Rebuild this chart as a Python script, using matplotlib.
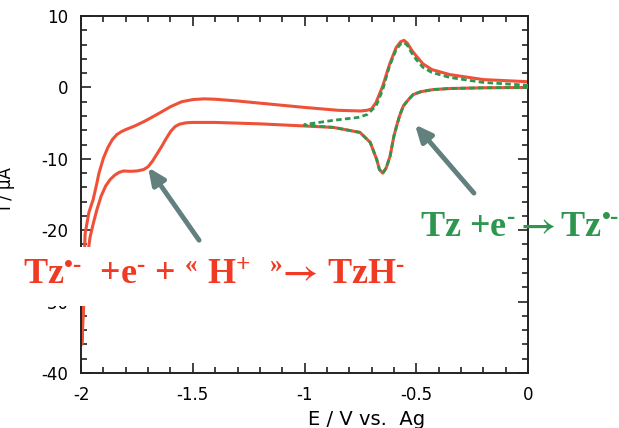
import numpy as np
import matplotlib
matplotlib.use("Agg")
import matplotlib.pyplot as plt

plt.rcParams["font.family"] = ["DejaVu Sans"]
plt.rcParams["mathtext.fontset"] = "custom"
plt.rcParams["mathtext.rm"] = "Liberation Serif:bold"
plt.rcParams["mathtext.it"] = "Liberation Serif:bold"
plt.rcParams["mathtext.bf"] = "Liberation Serif:bold"
plt.rcParams["mathtext.sf"] = "STIXGeneral:bold"
plt.rcParams["mathtext.fallback"] = "stix"

# full CV (red): cathodic sweep 0 -> -2 V, then return -2 -> 0 V
red_fwd_E = [0.0, -0.2, -0.35, -0.425, -0.48, -0.514, -0.535, -0.558, -0.575, -0.588,
             -0.60, -0.617, -0.635, -0.65, -0.665, -0.677, -0.706, -0.752, -0.87, -1.0,
             -1.2, -1.40, -1.47, -1.50, -1.53, -1.56, -1.58, -1.60, -1.62, -1.64,
             -1.66, -1.68, -1.70, -1.72, -1.75, -1.78, -1.81, -1.83, -1.85, -1.87,
             -1.89, -1.91, -1.93, -1.945, -1.96, -1.975, -1.985, -1.992, -1.997]
red_fwd_I = [0.0, -0.05, -0.15, -0.3, -0.6, -1.0, -1.7, -2.6, -4.0, -5.4,
             -6.8, -9.6, -11.3, -12.0, -11.5, -10.1, -7.7, -6.3, -5.6, -5.4,
             -5.1, -4.9, -4.9, -4.9, -4.95, -5.15, -5.5, -6.2, -7.2, -8.3,
             -9.3, -10.3, -11.1, -11.5, -11.7, -11.75, -11.7, -11.9, -12.3, -12.9,
             -13.8, -15.2, -17.2, -19.0, -21.0, -24.5, -28.5, -33.0, -36.0]
red_rev_E = [-1.997, -1.99, -1.982, -1.965, -1.946, -1.93, -1.92, -1.90, -1.88, -1.86,
             -1.84, -1.82, -1.80, -1.76, -1.72, -1.69, -1.65, -1.60, -1.55, -1.50,
             -1.45, -1.40, -1.3, -1.1, -1.0, -0.85, -0.75, -0.72, -0.70, -0.68,
             -0.65, -0.62, -0.59, -0.57, -0.555, -0.54, -0.52, -0.50, -0.47, -0.43,
             -0.35, -0.2, 0.0]
red_rev_I = [-36.0, -28.0, -20.5, -17.5, -15.7, -13.5, -12.0, -9.9, -8.4, -7.3,
             -6.6, -6.2, -5.9, -5.4, -4.8, -4.3, -3.6, -2.7, -2.0, -1.7,
             -1.6, -1.65, -1.9, -2.5, -2.8, -3.2, -3.3, -3.2, -3.0, -2.1,
             0.2, 3.2, 5.6, 6.4, 6.6, 6.2, 5.2, 4.4, 3.3, 2.5,
             1.8, 1.1, 0.8]

# CV restricted to 0 -> -1 V (green dashed)
green_fwd_E = [0.0, -0.2, -0.35, -0.425, -0.48, -0.514, -0.535, -0.558, -0.575, -0.588,
               -0.60, -0.617, -0.635, -0.65, -0.665, -0.677, -0.706, -0.752, -0.87, -1.0]
green_fwd_I = [0.0, -0.05, -0.15, -0.3, -0.6, -1.0, -1.7, -2.6, -4.0, -5.4,
               -6.8, -9.6, -11.3, -12.0, -11.5, -10.1, -7.7, -6.3, -5.6, -5.3]
green_rev_E = [-1.0, -0.87, -0.76, -0.72, -0.68, -0.65, -0.62, -0.59, -0.57, -0.555,
               -0.54, -0.52, -0.50, -0.47, -0.43, -0.35, -0.2, 0.0]
green_rev_I = [-5.2, -4.6, -4.2, -3.8, -2.6, -0.3, 3.0, 5.3, 6.1, 6.3,
               5.9, 4.8, 3.9, 2.8, 2.1, 1.4, 0.7, 0.3]

red_label = r"Tz$^{•‐}$  +e$^{‐}$ + $^{«}$ H$^{+}$  $^{»}\mathsf{→}$ TzH$^{‐}$"
green_label = r"Tz +e$^{‐}\,\mathsf{→}\,$Tz$^{•‐}$"

red = "#ef5138"
green = "#2f9650"
arrow_col = "#62807e"

fig = plt.figure(figsize=(6.19, 4.28), dpi=100)
ax = fig.add_axes([0.131, 0.1285, 0.722, 0.834])

ax.plot(red_fwd_E + red_rev_E, red_fwd_I + red_rev_I, color=red, lw=2.2, zorder=2)
ax.plot(green_fwd_E + green_rev_E, green_fwd_I + green_rev_I, color=green, lw=2.0,
        linestyle=(0, (2, 1.2)), zorder=3)

ax.set_xlim(-2, 0)
ax.set_ylim(-40, 10)
ax.set_xticks([-2, -1.5, -1, -0.5, 0])
ax.set_xticklabels(["-2", "-1.5", "-1", "-0.5", "0"])
ax.set_yticks([-40, -30, -20, -10, 0, 10])
ax.set_yticklabels(["-40", "-30", "-20", "-10", "0", "10"])
ax.set_xticks(np.arange(-2, 0.001, 0.1), minor=True)
ax.set_yticks(np.arange(-40, 10.001, 2), minor=True)
ax.tick_params(which="both", direction="in", top=True, right=True, width=1.2,
               labelsize=12, color="#222222")
ax.tick_params(which="major", length=7, pad=9)
ax.tick_params(which="minor", length=4)
for s in ax.spines.values():
    s.set_linewidth(1.4)
    s.set_color("#222222")

ax.set_xlabel("E / V vs.  Ag", fontsize=14)
ax.xaxis.set_label_coords(0.638, -0.103)
ax.set_ylabel("I / µA", fontsize=12)
ax.yaxis.set_label_coords(-0.147, 0.518)

arrow = dict(arrowstyle="-|>,head_length=1.0,head_width=0.45", color=arrow_col,
             lw=3.5, mutation_scale=10, shrinkA=0, shrinkB=0)
ax.annotate("", xy=(-1.70, -11.2), xytext=(-1.472, -21.4), arrowprops=arrow)
ax.annotate("", xy=(-0.506, -5.2), xytext=(-0.242, -14.8), arrowprops=arrow)

fig.text(23 / 619, 1 - 285 / 428, red_label, color="#f03a24", fontsize=26,
         family="Liberation Serif", weight="bold", ha="left", va="baseline",
         bbox=dict(facecolor="white", edgecolor="none", pad=9))
fig.text(420 / 619, 1 - 236 / 428, green_label, color=green, fontsize=26,
         family="Liberation Serif", weight="bold", ha="left", va="baseline")

fig.savefig("out.png", dpi=100)
